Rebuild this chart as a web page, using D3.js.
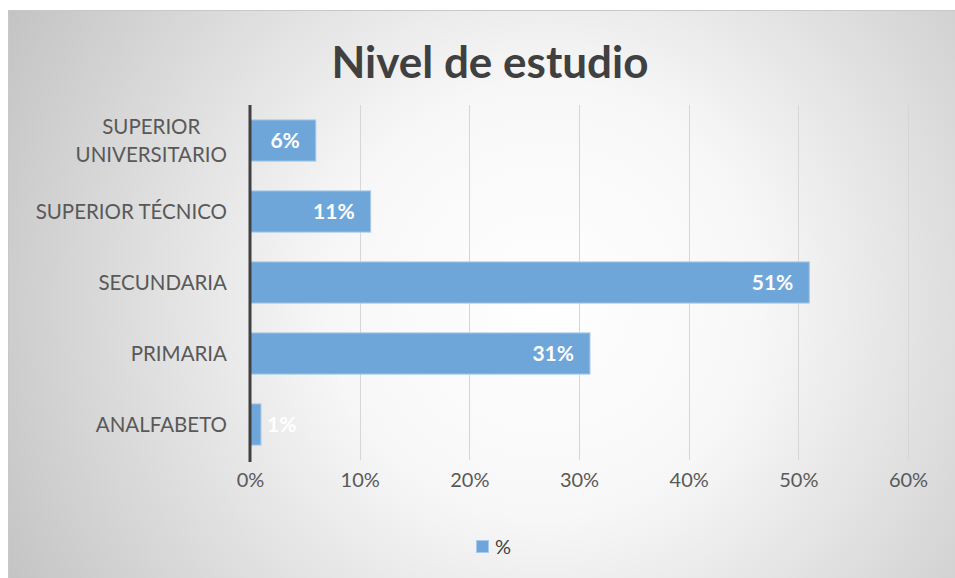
<!DOCTYPE html>
<html>
<head>
<meta charset="utf-8">
<script src="https://cdn.jsdelivr.net/npm/d3@7"></script>
<style>
  body { margin: 0; background: #fff; }
  text { font-family: Lato, "Open Sans", sans-serif; }
</style>
</head>
<body>
<div id="chart"></div>
<script>
// datos del gráfico
const categorias = ["SUPERIOR UNIVERSITARIO", "SUPERIOR TÉCNICO", "SECUNDARIA", "PRIMARIA", "ANALFABETO"];
const valores    = [6, 11, 51, 31, 1];
const ticksX     = [0, 10, 20, 30, 40, 50, 60];
const titulo     = "Nivel de estudio";
const serie      = "%";

const W = 955, H = 578;
const margin = { top: 105, right: 47, bottom: 118, left: 250 };

const svg = d3.select("#chart").append("svg")
  .attr("width", W).attr("height", H);

// fondo con degradado radial
const defs = svg.append("defs");
const grad = defs.append("radialGradient")
  .attr("id", "bg")
  .attr("gradientUnits", "userSpaceOnUse")
  .attr("cx", 545).attr("cy", 300).attr("r", 620);
grad.append("stop").attr("offset", "0").attr("stop-color", "#ffffff");
grad.append("stop").attr("offset", "0.35").attr("stop-color", "#f7f7f7");
grad.append("stop").attr("offset", "1").attr("stop-color", "#c2c2c2");

svg.append("rect")
  .attr("x", 8.5).attr("y", 10.5)
  .attr("width", W).attr("height", H)
  .attr("fill", "url(#bg)")
  .attr("stroke", "#c8c8c8");

const x = d3.scaleLinear()
  .domain([0, 60])
  .range([margin.left, 908]);

const y = d3.scaleBand()
  .domain(categorias)
  .range([margin.top, 460])
  .paddingInner(0.42)
  .paddingOuter(0.21);

// rejilla vertical
svg.append("g")
  .selectAll("line")
  .data(ticksX.slice(1))
  .join("line")
    .attr("x1", d => Math.round(x(d)) + 0.5)
    .attr("x2", d => Math.round(x(d)) + 0.5)
    .attr("y1", margin.top)
    .attr("y2", 460)
    .attr("stroke", "#d6d6d6")
    .attr("stroke-width", 1);

// eje X (solo etiquetas)
const xAxis = d3.axisBottom(x)
  .tickValues(ticksX)
  .tickFormat(d => d + "%")
  .tickSize(0)
  .tickPadding(0);

const gx = svg.append("g")
  .attr("transform", "translate(0, 472)")
  .call(xAxis);
gx.select(".domain").remove();
gx.selectAll("text")
  .attr("dy", "0.75em")
  .attr("font-size", 20)
  .attr("fill", "#595959")
  .style("font-family", "Lato, 'Open Sans', sans-serif");

// barras
svg.append("g")
  .selectAll("rect")
  .data(valores)
  .join("rect")
    .attr("x", x(0))
    .attr("y", (d, i) => y(categorias[i]))
    .attr("width", d => x(d) - x(0))
    .attr("height", y.bandwidth())
    .attr("fill", "#6fa6da")
    .attr("stroke", "#a8c9ea")
    .attr("stroke-width", 1);

// etiquetas de valor
svg.append("g")
  .selectAll("text")
  .data(valores)
  .join("text")
    .attr("x", d => (x(d) - x(0) > 40) ? x(d) - 16 : x(d) + 6)
    .attr("y", (d, i) => y(categorias[i]) + y.bandwidth() / 2)
    .attr("dy", "0.35em")
    .attr("text-anchor", d => (x(d) - x(0) > 40) ? "end" : "start")
    .attr("font-size", 21)
    .attr("font-weight", "bold")
    .attr("fill", "#ffffff")
    .text(d => d + "%");

// eje Y (línea y categorías)
svg.append("line")
  .attr("x1", x(0)).attr("x2", x(0))
  .attr("y1", margin.top).attr("y2", 462)
  .attr("stroke", "#404040")
  .attr("stroke-width", 3);

const gy = svg.append("g");
categorias.forEach(c => {
  const cy = y(c) + y.bandwidth() / 2;
  const palabras = c === "SUPERIOR UNIVERSITARIO" ? ["SUPERIOR", "UNIVERSITARIO"] : [c];
  const t = gy.append("text")
    .attr("font-size", 20.5)
    .attr("fill", "#595959");
  palabras.forEach((p, k) => {
    t.append("tspan")
      .attr("y", cy + (k - (palabras.length - 1) / 2) * 28)
      .attr("dy", "0.35em")
      .text(p);
  });
  if (palabras.length > 1) {
    const anchos = t.selectAll("tspan").nodes().map(n => n.getComputedTextLength());
    const maxW = d3.max(anchos);
    t.attr("text-anchor", "middle");
    t.selectAll("tspan").attr("x", 227 - maxW / 2);
  } else {
    t.attr("text-anchor", "end");
    t.selectAll("tspan").attr("x", 227);
  }
});

// título
svg.append("text")
  .attr("x", 490)
  .attr("y", 78)
  .attr("text-anchor", "middle")
  .attr("font-size", 44)
  .attr("font-weight", "bold")
  .attr("fill", "#404040")
  .text(titulo);

// leyenda
svg.append("rect")
  .attr("x", 476.5).attr("y", 540.5)
  .attr("width", 12).attr("height", 12)
  .attr("fill", "#6fa6da")
  .attr("stroke", "#a8c9ea");
svg.append("text")
  .attr("x", 495).attr("y", 547)
  .attr("dy", "0.35em")
  .attr("font-size", 20)
  .attr("fill", "#404040")
  .text(serie);
</script>
</body>
</html>
